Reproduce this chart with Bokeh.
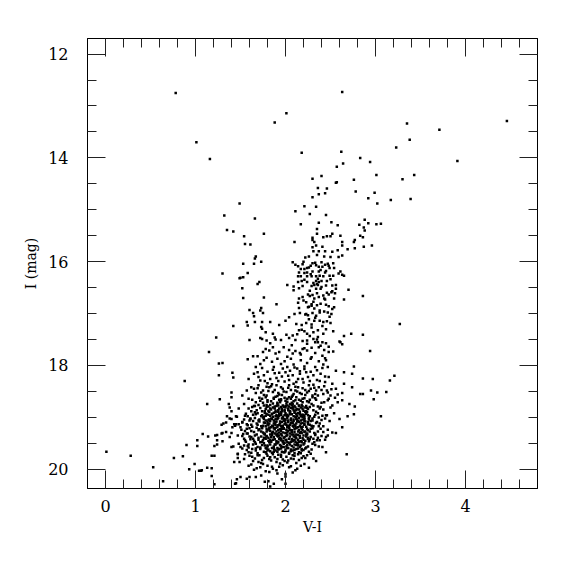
from bokeh.plotting import figure
from bokeh.models import Range1d, FixedTicker, LinearAxis, ColumnDataSource
from bokeh.embed import file_html
from bokeh.resources import INLINE

# ---------------- axis ticks ----------------
x_major = [0, 1, 2, 3, 4]
x_minor = [-0.2, 0.2, 0.4, 0.6, 0.8, 1.2, 1.4, 1.6, 1.8, 2.2, 2.4, 2.6, 2.8,
           3.2, 3.4, 3.6, 3.8, 4.2, 4.4, 4.6, 4.8]
y_major = [12, 14, 16, 18, 20]
y_minor = [12.5, 13, 13.5, 14.5, 15, 15.5, 16.5, 17, 17.5, 18.5, 19, 19.5, 20]

# ---------------- data: V-I colour and I magnitude ----------------
# bright giants / sparse upper stars
giant_x = [0.78, 1.01, 1.16, 2.63, 2.01, 1.88, 2.18, 2.62, 2.83, 2.94, 2.64, 2.57,
           3.01, 2.40, 2.30, 2.76, 2.57, 2.56, 4.46, 3.35, 3.71, 3.38, 3.23, 3.91,
           3.43, 3.30, 1.49, 1.32, 1.35, 1.42, 1.30, 1.49, 1.42, 1.23, 3.17, 3.39,
           3.27, 3.21, 3.16, 3.12]
giant_y = [12.75, 13.70, 14.02, 12.73, 13.14, 13.32, 13.90, 13.88, 14.00, 14.08, 14.11, 14.17,
           14.33, 14.35, 14.40, 14.42, 14.47, 14.48, 13.29, 13.34, 13.46, 13.65, 13.80, 14.06,
           14.33, 14.41, 14.88, 15.11, 15.39, 15.42, 16.23, 16.32, 17.24, 17.46, 14.81, 14.79,
           17.20, 18.20, 18.29, 18.51]

# blue stars (left, faint)
blue_x = [1.15, 1.26, 1.30, 1.26, 1.41, 1.42, 0.88, 1.40, 1.40, 1.27, 1.13, 1.37,
          1.38, 1.40, 1.35, 1.38, 1.40, 1.45, 1.29, 1.31, 1.34, 1.43, 1.45, 1.48,
          1.34, 1.41, 1.30, 1.29, 1.24, 1.22, 1.40, 1.08, 1.14, 1.38, 1.47, 1.24,
          1.02, 1.30, 0.90, 1.02, 1.21, 1.24, 1.40, 1.42, 1.48, 0.01, 0.28, 0.76,
          0.86, 1.18, 1.21, 1.47, 1.47, 1.43, 1.49, 0.99, 0.53, 0.93, 1.13, 1.18,
          1.04, 1.06, 1.07, 1.18, 0.64, 1.21, 1.45, 1.46]
blue_y = [17.74, 17.96, 17.95, 18.19, 18.14, 18.23, 18.30, 18.52, 18.61, 18.65, 18.74, 18.74,
          18.81, 18.88, 18.98, 19.02, 19.03, 18.98, 19.14, 19.12, 19.10, 19.13, 19.13, 19.13,
          19.28, 19.19, 19.30, 19.31, 19.34, 19.35, 19.30, 19.32, 19.37, 19.38, 19.35, 19.44,
          19.44, 19.46, 19.53, 19.55, 19.55, 19.52, 19.57, 19.56, 19.51, 19.66, 19.74, 19.78,
          19.75, 19.74, 19.74, 19.71, 19.78, 19.86, 19.86, 19.90, 19.96, 20.00, 19.97, 19.98,
          20.03, 20.03, 20.02, 20.13, 20.23, 20.29, 20.27, 20.19]

# red giant branch and subgiants (I 14.5 - 17.9)
rgb_x = [2.36, 2.46, 2.78, 2.99, 2.44, 2.30, 2.37, 2.92, 3.02, 2.21, 2.34,
         2.11, 2.27, 2.45, 1.66, 2.88, 2.17, 2.37, 2.51, 2.58, 2.82, 2.92, 3.01, 3.06, 2.87, 2.88,
         2.35, 1.76, 2.35, 2.52,
         2.50, 2.42, 2.46, 2.30, 2.61, 2.83, 2.86, 1.54, 2.10, 2.30, 2.32, 2.77, 2.76, 2.63, 2.63,
         1.55, 1.61, 2.30, 2.34, 2.41, 2.87, 2.96, 2.58, 2.52, 2.69, 2.77, 2.31, 2.37, 2.44, 1.67,
         1.66, 2.22, 2.26, 2.35, 2.43, 2.50, 2.59, 2.63,
         1.73, 1.53, 1.65, 2.08, 2.11, 2.14, 2.20, 2.30, 2.28, 2.34, 2.40, 2.44, 2.47, 2.53,
         2.17, 2.21, 2.24, 2.37, 2.41, 2.49, 2.54,
         1.58, 2.15, 2.21, 2.24, 2.30, 2.37, 2.45, 2.61, 2.63, 2.59,
         1.50, 1.53, 2.14, 2.17, 2.24, 2.29, 2.34, 2.38, 2.42, 2.49, 2.53, 2.65,
         1.69, 1.71, 2.14, 2.18, 2.24, 2.34, 2.37, 2.40, 2.46, 2.50,
         2.02, 2.09, 2.19, 2.29, 2.32, 2.36, 2.45, 2.52, 2.56,
         1.52, 2.09, 2.15, 2.34, 2.39, 2.52, 2.56, 2.70,
         2.25, 2.27, 2.30, 2.35, 2.42, 2.48, 2.51, 2.55, 2.86,
         1.53, 1.76, 2.15, 2.20, 2.32, 2.37, 2.44, 2.54, 2.65,
         1.90, 2.14, 2.23, 2.29, 2.35, 2.39, 2.45, 2.48, 2.52, 2.54,
         1.73, 1.72, 1.60, 2.15, 2.25, 2.29, 2.32,
         1.64, 1.75, 2.16, 2.30, 2.38, 2.43, 2.47,
         1.65, 2.10, 2.23, 2.25, 2.34, 2.51,
         1.57, 1.58, 1.66, 1.74, 1.83, 1.93, 2.00, 2.04, 2.12, 2.18, 2.23, 2.26, 2.29, 2.32, 2.38,
         2.42, 2.46, 2.50,
         1.73, 1.74, 1.78, 1.86, 1.88, 2.01, 2.08, 2.15, 2.21, 2.24, 2.31, 2.36, 2.42, 2.53, 2.65,
         2.73, 2.86,
         1.60, 1.72, 1.74, 1.79, 1.89, 1.95, 2.04, 2.11, 2.19, 2.24, 2.31, 2.35, 2.41, 2.60,
         2.19, 2.26, 2.33, 2.39, 2.48, 2.28, 2.36, 2.44, 2.31, 2.21, 2.40, 2.27, 2.35, 2.46, 2.19,
         2.31, 2.43, 2.26, 2.38, 2.22, 2.33, 2.49, 2.29, 2.41, 2.18, 2.36, 2.27, 2.45, 2.13, 2.24,
         2.39, 2.07, 2.21, 2.33, 2.48, 2.02, 2.17, 2.29, 2.44]
rgb_y = [14.58, 14.59, 14.65, 14.67, 14.68, 14.76, 14.70, 14.78, 14.88, 14.93, 14.94,
         15.03, 15.08, 15.10, 15.17, 15.19, 15.28, 15.25, 15.24, 15.30, 15.29, 15.26, 15.28, 15.27,
         15.34, 15.40, 15.37, 15.46, 15.46, 15.46,
         15.51, 15.53, 15.51, 15.54, 15.50, 15.50, 15.53, 15.51, 15.62, 15.58, 15.62, 15.58, 15.62,
         15.62, 15.69, 15.66, 15.67, 15.72, 15.69, 15.71, 15.71, 15.69, 15.78, 15.81, 15.76, 15.74,
         15.80, 15.80, 15.80, 15.90, 15.94, 15.92, 15.90, 15.87, 15.90, 15.91, 15.91, 15.88,
         16.00, 16.04, 16.04, 16.01, 16.06, 16.09, 16.00, 16.03, 16.08, 16.07, 16.01, 16.06, 16.04,
         16.03,
         16.14, 16.14, 16.12, 16.10, 16.10, 16.12, 16.12,
         16.22, 16.21, 16.22, 16.21, 16.19, 16.19, 16.18, 16.19, 16.25, 16.23,
         16.31, 16.30, 16.28, 16.28, 16.28, 16.28, 16.28, 16.27, 16.28, 16.27, 16.27, 16.27,
         16.43, 16.39, 16.39, 16.37, 16.39, 16.37, 16.39, 16.37, 16.37, 16.34,
         16.45, 16.48, 16.47, 16.47, 16.45, 16.45, 16.46, 16.46, 16.45,
         16.51, 16.55, 16.51, 16.52, 16.52, 16.57, 16.52, 16.54,
         16.63, 16.66, 16.64, 16.61, 16.65, 16.63, 16.59, 16.61, 16.66,
         16.70, 16.69, 16.71, 16.75, 16.71, 16.68, 16.73, 16.71, 16.73,
         16.82, 16.79, 16.78, 16.82, 16.84, 16.81, 16.83, 16.86, 16.91, 16.88,
         16.89, 16.94, 16.93, 16.89, 16.88, 16.85, 16.90,
         16.99, 16.99, 16.99, 16.99, 16.98, 16.96, 16.98,
         17.05, 17.01, 17.01, 17.03, 17.04, 17.01,
         17.16, 17.23, 17.16, 17.16, 17.16, 17.22, 17.14, 17.07, 17.20, 17.22, 17.18, 17.11, 17.21,
         17.14, 17.14, 17.16, 17.15, 17.18,
         17.26, 17.29, 17.36, 17.39, 17.46, 17.41, 17.42, 17.32, 17.34, 17.39, 17.36, 17.32, 17.39,
         17.34, 17.43, 17.39, 17.41,
         17.51, 17.47, 17.49, 17.52, 17.50, 17.51, 17.47, 17.51, 17.53, 17.52, 17.49, 17.50, 17.55,
         17.54,
         16.05, 16.11, 16.02, 16.16, 16.08, 16.24, 16.33, 16.21, 16.41, 16.35, 16.49, 16.56, 16.43,
         16.60, 16.68, 16.77, 16.71, 16.87, 16.94, 17.02, 17.08, 17.06, 17.27, 17.24, 17.31, 17.45,
         17.43, 17.30, 17.40, 17.58, 17.62, 17.61, 17.67, 17.55, 17.64, 17.83, 17.79, 17.84, 17.86]

# turnoff / upper main sequence (I 17.5 - 20.4)
to_x = [1.83, 2.36, 2.45, 2.61, 2.63, 2.53, 2.94,
        1.58, 1.64, 1.69, 1.75, 1.78, 1.82, 1.86, 1.89, 1.93, 1.98, 2.04, 2.08, 2.11, 2.16, 2.19,
        2.24, 2.29, 2.33, 2.37, 2.43, 2.48, 2.41,
        1.67, 1.72, 1.76, 1.79, 1.85, 1.87, 1.91, 1.95, 1.99, 2.02, 2.06, 2.09, 2.13, 2.17, 2.21,
        2.24, 2.28, 2.33, 2.37, 2.42, 2.45, 2.47, 2.56, 2.65, 2.76,
        1.59, 1.65, 1.69, 1.72, 1.76, 1.80, 1.83, 1.88, 1.92, 1.96, 2.00, 2.04, 2.08, 2.12, 2.16,
        2.19, 2.23, 2.27, 2.31, 2.35, 2.39, 2.44, 2.48, 2.52, 2.65, 2.74, 2.86, 2.97,
        1.52, 1.57, 1.62, 1.67, 1.70, 1.75, 1.79, 1.82, 1.86, 1.90, 1.93, 1.97, 2.01, 2.04, 2.07,
        2.11, 2.14, 2.18, 2.22, 2.26, 2.30, 2.34, 2.37, 2.42, 2.46, 2.50, 2.56, 2.63, 2.74, 2.83,
        2.86, 2.95, 3.02,
        1.48, 1.54, 1.59, 1.63, 1.67, 1.71, 1.76, 1.80, 1.83, 1.87, 1.91, 1.95, 1.98, 2.02, 2.05,
        2.08, 2.11, 2.15, 2.19, 2.22, 2.26, 2.31, 2.34, 2.39, 2.43, 2.48, 2.52, 2.58, 2.63, 2.71,
        2.98, 2.77,
        1.46, 1.52, 1.56, 1.61, 1.66, 1.70, 1.74, 1.77, 1.81, 1.85, 1.88, 1.91, 1.95, 1.98, 2.01,
        2.05, 2.08, 2.11, 2.14, 2.17, 2.21, 2.24, 2.28, 2.32, 2.36, 2.40, 2.45, 2.49, 2.54, 2.60,
        2.69, 2.76, 3.06,
        1.44, 1.53, 1.57, 1.62, 1.66, 1.70, 1.75, 1.79, 1.82, 1.86, 1.89, 1.93, 1.96, 2.00, 2.03,
        2.07, 2.11, 2.14, 2.17, 2.21, 2.24, 2.28, 2.33, 2.37, 2.42, 2.47, 2.56, 2.63,
        1.50, 1.55, 1.59, 1.64, 1.67, 1.72, 1.76, 1.80, 1.84, 1.875, 1.91, 1.95, 1.98, 2.02, 2.06,
        2.10, 2.14, 2.17, 2.22, 2.25, 2.30, 2.35, 2.41, 2.45,
        1.47, 1.54, 1.59, 1.64, 1.69, 1.73, 1.78, 1.82, 1.86, 1.90, 1.95, 1.98, 2.03, 2.08, 2.12,
        2.17, 2.22, 2.28, 2.34, 2.68, 2.45,
        1.59, 1.65, 1.72, 1.80, 1.82, 1.86, 1.93, 2.00, 2.04, 2.11, 2.17, 2.26, 1.50, 1.60, 1.44,
        1.57, 1.67, 1.81, 1.83, 1.87, 2.00, 2.00]
to_y = [17.57, 17.55, 17.57, 17.55, 17.59, 17.73, 17.72,
        17.88, 17.82, 17.82, 17.74, 17.68, 17.71, 17.65, 17.77, 17.74, 17.65, 17.70, 17.77, 17.72,
        17.76, 17.68, 17.71, 17.66, 17.76, 17.65, 17.70, 17.74, 17.81,
        18.03, 17.97, 17.90, 17.85, 17.93, 18.03, 17.87, 17.97, 17.92, 18.03, 17.87, 17.98, 18.06,
        17.90, 18.02, 17.95, 17.87, 18.03, 17.92, 17.98, 17.90, 18.03, 18.10, 18.13, 18.02,
        18.26, 18.16, 18.13, 18.29, 18.19, 18.34, 18.26, 18.15, 18.30, 18.21, 18.13, 18.28, 18.19,
        18.32, 18.16, 18.26, 18.13, 18.30, 18.19, 18.28, 18.16, 18.32, 18.22, 18.35, 18.35, 18.16,
        18.25, 18.26,
        18.58, 18.48, 18.42, 18.53, 18.38, 18.48, 18.58, 18.42, 18.51, 18.38, 18.56, 18.45, 18.51,
        18.38, 18.60, 18.48, 18.42, 18.55, 18.47, 18.38, 18.58, 18.48, 18.42, 18.55, 18.48, 18.58,
        18.45, 18.53, 18.42, 18.55, 18.55, 18.48, 18.52,
        18.83, 18.74, 18.64, 18.80, 18.71, 18.62, 18.77, 18.67, 18.83, 18.64, 18.74, 18.67, 18.80,
        18.64, 18.74, 18.83, 18.67, 18.77, 18.64, 18.81, 18.71, 18.77, 18.66, 18.80, 18.71, 18.64,
        18.77, 18.71, 18.67, 18.74, 18.65, 18.79,
        18.99, 19.09, 18.93, 19.03, 18.90, 19.06, 18.96, 18.88, 19.05, 18.93, 19.09, 18.98, 18.90,
        19.06, 18.96, 18.88, 19.11, 18.99, 18.92, 19.06, 18.97, 18.90, 19.07, 18.99, 18.92, 19.05,
        18.96, 19.07, 18.92, 19.03, 18.98, 18.94, 18.98,
        19.16, 19.32, 19.22, 19.14, 19.35, 19.25, 19.16, 19.37, 19.20, 19.28, 19.14, 19.35, 19.22,
        19.30, 19.16, 19.25, 19.37, 19.19, 19.28, 19.14, 19.33, 19.22, 19.32, 19.17, 19.28, 19.35,
        19.30, 19.19,
        19.57, 19.44, 19.52, 19.41, 19.60, 19.48, 19.39, 19.56, 19.46, 19.62, 19.50, 19.41, 19.57,
        19.48, 19.62, 19.43, 19.54, 19.46, 19.60, 19.41, 19.51, 19.44, 19.57, 19.38,
        19.70, 19.80, 19.67, 19.84, 19.73, 19.88, 19.67, 19.80, 19.71, 19.86, 19.76, 19.67, 19.83,
        19.73, 19.88, 19.69, 19.78, 19.70, 19.84, 19.71, 19.67,
        19.93, 20.01, 19.96, 19.93, 20.05, 19.99, 19.95, 20.09, 19.96, 20.02, 19.93, 19.97, 20.15,
        20.15, 20.28, 20.18, 20.15, 20.23, 20.33, 20.28, 20.14, 20.28]

# dense core of the main-sequence turnoff
core_x = [1.78, 1.84, 1.89, 1.93, 1.99, 2.02, 2.06, 2.12, 2.17, 2.21, 2.27, 1.72, 2.09, 1.96, 2.30,
          1.70, 1.75, 1.81, 1.86, 1.90, 1.94, 1.97, 2.01, 2.04, 2.07, 2.10, 2.13, 2.18, 2.23, 2.29,
          1.66, 2.36,
          1.68, 1.72, 1.78, 1.82, 1.86, 1.89, 1.93, 1.96, 2.00, 2.03, 2.06, 2.10, 2.13, 2.17, 2.20,
          2.25, 2.31, 1.62, 2.38,
          1.64, 1.69, 1.73, 1.79, 1.83, 1.87, 1.90, 1.93, 1.97, 2.00, 2.03, 2.07, 2.10, 2.13, 2.16,
          2.19, 2.23, 2.27, 2.33, 1.58, 2.41,
          1.60, 1.66, 1.71, 1.76, 1.80, 1.84, 1.87, 1.91, 1.94, 1.97, 2.00, 2.03, 2.06, 2.09, 2.12,
          2.15, 2.19, 2.22, 2.26, 2.30, 2.35, 2.44, 1.54,
          1.57, 1.63, 1.68, 1.73, 1.77, 1.81, 1.84, 1.88, 1.91, 1.94, 1.97, 2.00, 2.02, 2.05, 2.09,
          2.12, 2.16, 2.19, 2.23, 2.27, 2.31, 2.38, 1.50,
          1.55, 1.60, 1.65, 1.71, 1.75, 1.79, 1.83, 1.87, 1.90, 1.94, 1.97, 2.01, 2.04, 2.07, 2.10,
          2.14, 2.18, 2.21, 2.25, 2.30, 2.36, 2.47,
          1.52, 1.58, 1.62, 1.68, 1.73, 1.77, 1.81, 1.85, 1.88, 1.92, 1.95, 1.99, 2.02, 2.05, 2.09,
          2.12, 2.16, 2.20, 2.24, 2.28, 2.33, 2.40,
          1.56, 1.61, 1.66, 1.70, 1.74, 1.78, 1.82, 1.86, 1.90, 1.93, 1.97, 2.00, 2.04, 2.07, 2.11,
          2.14, 2.18, 2.22, 2.27, 2.32, 2.38,
          1.54, 1.59, 1.64, 1.69, 1.74, 1.78, 1.83, 1.87, 1.91, 1.94, 1.98, 2.01, 2.05, 2.09, 2.12,
          2.16, 2.20, 2.25, 2.33,
          1.57, 1.62, 1.67, 1.72, 1.76, 1.81, 1.85, 1.89, 1.93, 1.96, 2.00, 2.04, 2.08, 2.12, 2.15,
          2.20, 2.26,
          1.60, 1.66, 1.71, 1.76, 1.80, 1.84, 1.88, 1.92, 1.97, 2.01, 2.06, 2.10, 2.15, 2.20, 1.70,
          1.94, 2.02,
          1.74, 1.80, 1.86, 1.93, 1.97, 2.05, 2.10, 2.16, 2.21, 2.28, 2.35, 2.41,
          1.70, 1.77, 1.85, 1.90, 1.99, 2.03, 2.09, 2.14, 2.20, 2.25, 2.31, 2.38, 2.44,
          1.65, 1.73, 1.79, 1.88, 1.92, 1.95, 2.06, 2.09, 2.13, 2.19, 2.24, 2.28, 2.33, 2.40, 2.47]
core_y = [18.61, 18.69, 18.60, 18.66, 18.62, 18.70, 18.64, 18.61, 18.68, 18.63, 18.66, 18.68,
          18.69, 18.57, 18.61,
          18.76, 18.72, 18.79, 18.73, 18.78, 18.71, 18.77, 18.73, 18.79, 18.72, 18.78, 18.73, 18.76,
          18.78, 18.74, 18.78, 18.79,
          18.86, 18.82, 18.84, 18.89, 18.81, 18.87, 18.83, 18.88, 18.81, 18.86, 18.82, 18.88, 18.84,
          18.81, 18.87, 18.84, 18.86, 18.88, 18.83,
          18.95, 18.92, 18.98, 18.93, 18.97, 18.91, 18.96, 18.93, 18.99, 18.92, 18.97, 18.94, 18.91,
          18.97, 18.94, 18.99, 18.93, 18.98, 18.95, 18.98, 18.97,
          19.06, 19.01, 19.08, 19.03, 19.09, 19.02, 19.06, 19.03, 19.08, 19.01, 19.05, 19.09, 19.02,
          19.07, 19.03, 19.09, 19.04, 19.08, 19.01, 19.06, 19.09, 19.02, 19.04,
          19.13, 19.18, 19.12, 19.17, 19.11, 19.15, 19.19, 19.13, 19.18, 19.12, 19.16, 19.11, 19.19,
          19.14, 19.18, 19.12, 19.16, 19.11, 19.18, 19.14, 19.17, 19.12, 19.19,
          19.26, 19.21, 19.28, 19.23, 19.29, 19.22, 19.26, 19.21, 19.27, 19.23, 19.29, 19.24, 19.21,
          19.28, 19.23, 19.27, 19.22, 19.28, 19.25, 19.21, 19.27, 19.24,
          19.36, 19.31, 19.38, 19.33, 19.37, 19.32, 19.39, 19.34, 19.31, 19.37, 19.32, 19.38, 19.34,
          19.31, 19.37, 19.33, 19.39, 19.35, 19.31, 19.38, 19.34, 19.36,
          19.47, 19.42, 19.48, 19.43, 19.47, 19.41, 19.48, 19.43, 19.46, 19.42, 19.48, 19.44, 19.49,
          19.42, 19.47, 19.43, 19.48, 19.45, 19.42, 19.48, 19.44,
          19.54, 19.58, 19.52, 19.57, 19.53, 19.59, 19.52, 19.56, 19.59, 19.53, 19.51, 19.56, 19.52,
          19.58, 19.53, 19.57, 19.52, 19.56, 19.53,
          19.63, 19.68, 19.64, 19.61, 19.66, 19.62, 19.68, 19.64, 19.61, 19.66, 19.62, 19.68, 19.64,
          19.61, 19.67, 19.63, 19.66,
          19.74, 19.79, 19.73, 19.78, 19.74, 19.83, 19.77, 19.72, 19.81, 19.76, 19.79, 19.74, 19.82,
          19.75, 19.86, 19.89, 19.87,
          18.05, 18.12, 18.08, 18.14, 18.06, 18.10, 18.04, 18.11, 18.07, 18.12, 18.09, 18.05,
          18.22, 18.30, 18.36, 18.24, 18.31, 18.20, 18.35, 18.26, 18.33, 18.22, 18.37, 18.30, 18.21,
          18.45, 18.52, 18.41, 18.47, 18.53, 18.42, 18.47, 18.55, 18.50, 18.44, 18.52, 18.45, 18.55,
          18.47, 18.52]

# second layer of the dense core
core2_x = [1.69, 1.76, 1.81, 1.84, 1.91, 1.98, 2.03, 2.08, 2.11, 2.16, 2.22, 2.26, 2.32, 2.36,
           2.43, 2.51, 2.58,
           1.63, 1.74, 1.80, 1.87, 1.91, 1.95, 2.00, 2.04, 2.08, 2.15, 2.19, 2.24, 2.33, 2.40,
           2.47, 2.55,
           1.59, 1.65, 1.74, 1.79, 1.84, 1.88, 1.92, 1.95, 1.99, 2.02, 2.05, 2.08, 2.12, 2.15,
           2.19, 2.22, 2.27, 2.34, 2.42, 2.50,
           1.55, 1.61, 1.67, 1.71, 1.76, 1.81, 1.85, 1.89, 1.92, 1.95, 1.99, 2.02, 2.05, 2.09,
           2.12, 2.15, 2.18, 2.21, 2.25, 2.30, 2.37, 2.46,
           1.52, 1.58, 1.64, 1.69, 1.74, 1.78, 1.82, 1.86, 1.89, 1.92, 1.96, 1.99, 2.01, 2.04,
           2.07, 2.11, 2.14, 2.17, 2.21, 2.25, 2.29, 2.34, 2.42,
           1.51, 1.57, 1.62, 1.68, 1.73, 1.77, 1.80, 1.85, 1.88, 1.91, 1.95, 1.98, 2.02, 2.06,
           2.09, 2.12, 2.16, 2.19, 2.23, 2.27, 2.32, 2.39, 2.52,
           1.54, 1.60, 1.65, 1.70, 1.75, 1.79, 1.83, 1.87, 1.90, 1.94, 1.97, 2.01, 2.04, 2.08,
           2.11, 2.15, 2.19, 2.23, 2.26, 2.31, 2.36, 2.44,
           1.52, 1.58, 1.63, 1.67, 1.72, 1.77, 1.80, 1.85, 1.89, 1.92, 1.96, 2.00, 2.03, 2.07,
           2.10, 2.14, 2.18, 2.23, 2.29, 2.37,
           1.55, 1.63, 1.69, 1.74, 1.79, 1.83, 1.87, 1.91, 1.95, 1.99, 2.04, 2.09, 2.14, 2.18,
           2.24, 2.31,
           1.62, 1.68, 1.75, 1.78, 1.85, 1.90, 1.97, 2.06, 2.13, 2.21, 1.73, 1.91, 2.08, 1.77, 1.96]
core2_y = [18.44, 18.57, 18.49, 18.40, 18.59, 18.50, 18.43, 18.58, 18.41, 18.53, 18.57, 18.49,
           18.43, 18.58, 18.40, 18.46, 18.56,
           18.66, 18.64, 18.70, 18.62, 18.72, 18.65, 18.68, 18.61, 18.74, 18.66, 18.71, 18.69,
           18.63, 18.72, 18.67, 18.62,
           18.83, 18.78, 18.88, 18.76, 18.85, 18.79, 18.89, 18.80, 18.86, 18.77, 18.89, 18.80,
           18.86, 18.78, 18.84, 18.89, 18.80, 18.89, 18.85, 18.81,
           18.97, 19.02, 18.94, 19.04, 18.99, 18.95, 19.03, 18.98, 19.01, 18.95, 19.03, 18.98,
           18.94, 19.04, 18.99, 19.01, 18.95, 19.03, 18.96, 19.02, 19.00, 18.96,
           19.10, 19.15, 19.07, 19.14, 19.19, 19.06, 19.12, 19.17, 19.09, 19.15, 19.20, 19.07,
           19.14, 19.18, 19.10, 19.16, 19.07, 19.19, 19.13, 19.09, 19.16, 19.11, 19.17,
           19.24, 19.31, 19.26, 19.20, 19.27, 19.33, 19.25, 19.30, 19.23, 19.32, 19.26, 19.21,
           19.29, 19.25, 19.33, 19.20, 19.30, 19.25, 19.33, 19.27, 19.30, 19.22, 19.29,
           19.41, 19.37, 19.45, 19.39, 19.44, 19.36, 19.43, 19.38, 19.49, 19.40, 19.45, 19.36,
           19.41, 19.46, 19.38, 19.47, 19.40, 19.37, 19.46, 19.41, 19.39, 19.43,
           19.60, 19.55, 19.61, 19.51, 19.58, 19.54, 19.64, 19.59, 19.52, 19.62, 19.57, 19.65,
           19.59, 19.55, 19.63, 19.52, 19.61, 19.58, 19.62, 19.56,
           19.71, 19.76, 19.69, 19.82, 19.70, 19.77, 19.66, 19.80, 19.72, 19.84, 19.70, 19.80,
           19.71, 19.78, 19.73, 19.79,
           19.91, 19.98, 19.90, 20.04, 19.95, 20.02, 19.92, 19.94, 19.99, 19.90, 20.12, 20.08,
           20.06, 20.24, 20.19]

# third layer: the darkest part of the turnoff clump, as (V-I, I) pairs
core3 = [(1.79, 18.80), (1.83, 18.76), (1.88, 18.83), (1.92, 18.77), (1.96, 18.84), (2.00, 18.78),
         (2.03, 18.83), (2.07, 18.76), (2.11, 18.81), (2.15, 18.85), (2.19, 18.79), (2.24, 18.82),
         (1.77, 18.91), (1.81, 18.87), (1.85, 18.94), (1.89, 18.90), (1.92, 18.86), (1.95, 18.93),
         (1.99, 18.88), (2.02, 18.95), (2.05, 18.90), (2.09, 18.86), (2.12, 18.93), (2.16, 18.89),
         (2.20, 18.95), (2.23, 18.88),
         (1.75, 19.00), (1.78, 18.97), (1.82, 19.04), (1.86, 18.99), (1.89, 19.03), (1.93, 18.97),
         (1.96, 19.02), (1.99, 18.96), (2.02, 19.01), (2.06, 19.05), (2.09, 18.98), (2.13, 19.04),
         (2.17, 18.98), (2.21, 19.01), (2.26, 19.04),
         (1.76, 19.10), (1.80, 19.13), (1.83, 19.07), (1.87, 19.12), (1.90, 19.08), (1.93, 19.14),
         (1.96, 19.09), (1.99, 19.13), (2.03, 19.06), (2.06, 19.11), (2.10, 19.14), (2.13, 19.08),
         (2.17, 19.12), (2.21, 19.07), (2.25, 19.13),
         (1.74, 19.21), (1.78, 19.17), (1.82, 19.23), (1.85, 19.16), (1.89, 19.20), (1.92, 19.24),
         (1.95, 19.17), (1.98, 19.22), (2.02, 19.18), (2.05, 19.24), (2.08, 19.16), (2.12, 19.21),
         (2.15, 19.25), (2.19, 19.18), (2.24, 19.22),
         (1.76, 19.31), (1.79, 19.27), (1.83, 19.33), (1.86, 19.28), (1.90, 19.34), (1.93, 19.29),
         (1.96, 19.35), (2.00, 19.30), (2.03, 19.26), (2.07, 19.33), (2.10, 19.28), (2.14, 19.34),
         (2.18, 19.30), (2.22, 19.27),
         (1.77, 19.40), (1.81, 19.45), (1.84, 19.38), (1.88, 19.42), (1.91, 19.36), (1.95, 19.44),
         (1.98, 19.39), (2.01, 19.43), (2.05, 19.37), (2.08, 19.44), (2.12, 19.40), (2.16, 19.36),
         (2.20, 19.43), (2.25, 19.39),
         (1.76, 19.50), (1.80, 19.54), (1.84, 19.47), (1.88, 19.52), (1.92, 19.48), (1.95, 19.55),
         (1.99, 19.49), (2.02, 19.53), (2.06, 19.47), (2.10, 19.52), (2.13, 19.49), (2.17, 19.54),
         (2.21, 19.50),
         (1.79, 19.60), (1.83, 19.65), (1.87, 19.59), (1.91, 19.66), (1.95, 19.60), (1.99, 19.67),
         (2.02, 19.59), (2.06, 19.65), (2.10, 19.69), (2.14, 19.60), (2.18, 19.64)]
core3_x = [c[0] for c in core3]
core3_y = [c[1] for c in core3]

groups = [("giant", giant_x, giant_y), ("blue", blue_x, blue_y), ("rgb", rgb_x, rgb_y),
          ("turnoff", to_x, to_y), ("core", core_x, core_y), ("core2", core2_x, core2_y),
          ("core3", core3_x, core3_y)]
all_x, all_y = [], []
for name, gx, gy in groups:
    if len(gx) != len(gy):
        raise ValueError(f"{name}: {len(gx)} x vs {len(gy)} y")
    all_x += gx
    all_y += gy

source = ColumnDataSource(data=dict(vi=all_x, imag=all_y))

# ---------------- figure ----------------
FONT = "DejaVu Serif"
p = figure(width=567, height=563, output_backend="svg", toolbar_location=None,
           x_range=Range1d(-0.2, 4.8), y_range=Range1d(20.37, 11.7),
           min_border_left=87, min_border_right=30, min_border_top=38, min_border_bottom=75,
           x_axis_label="V-I", y_axis_label="I (mag)")
p.grid.visible = False
p.outline_line_color = "black"
p.outline_line_width = 1
p.background_fill_color = "white"
p.border_fill_color = "white"

p.add_layout(LinearAxis(), "above")
p.add_layout(LinearAxis(), "right")


def style_axis(ax, major, minor, labelled):
    ax.ticker = FixedTicker(ticks=major, minor_ticks=minor)
    ax.major_tick_in = 18
    ax.major_tick_out = 0
    ax.minor_tick_in = 9
    ax.minor_tick_out = 0
    ax.axis_line_color = "black"
    ax.axis_line_width = 1
    ax.major_tick_line_color = "#222222"
    ax.minor_tick_line_color = "#222222"
    ax.major_tick_line_width = 1
    ax.minor_tick_line_width = 1
    ax.major_label_text_font = FONT
    ax.major_label_text_font_size = "16px"
    if labelled:
        ax.major_label_text_color = "black"
        ax.axis_label_text_font = FONT
        ax.axis_label_text_font_size = "14px"
        ax.axis_label_text_font_style = "normal"
        ax.axis_label_text_color = "black"
    else:
        ax.major_label_text_color = None
        ax.axis_label = None


for ax in p.below:
    style_axis(ax, x_major, x_minor, True)
    ax.major_label_standoff = 11
    ax.axis_label_standoff = 4
for ax in p.above:
    style_axis(ax, x_major, x_minor, False)
for ax in p.left:
    style_axis(ax, y_major, y_minor, True)
    ax.major_label_standoff = 19
    ax.axis_label_standoff = 6
for ax in p.right:
    style_axis(ax, y_major, y_minor, False)

p.scatter("vi", "imag", source=source, marker="square", size=2.5,
          fill_color="black", line_color=None)

open("out.html", "w").write(file_html(p, INLINE))
